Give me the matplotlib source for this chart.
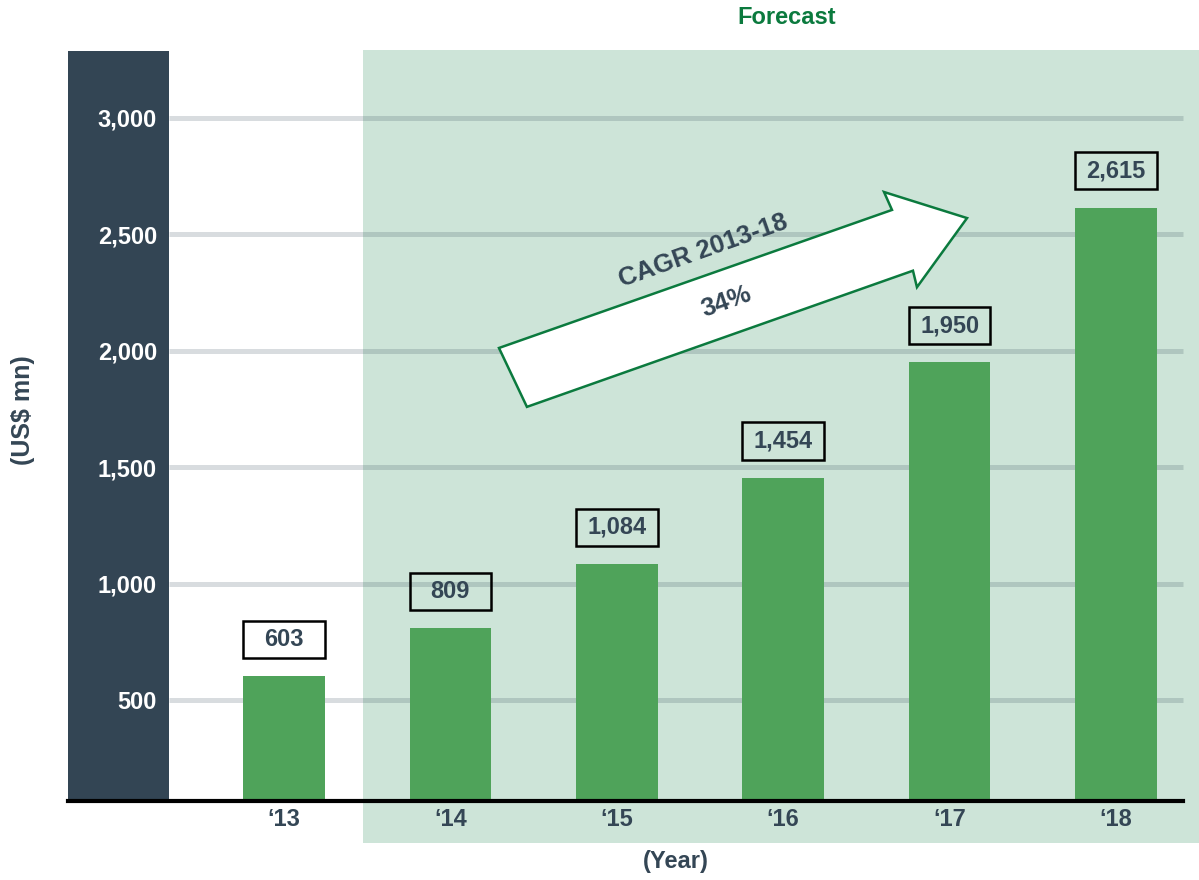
import matplotlib
matplotlib.use('Agg')
from matplotlib import pyplot
from matplotlib.patches import Rectangle, Polygon
from matplotlib import transforms

years = ['\u201813', '\u201814', '\u201815', '\u201816', '\u201817', '\u201818']
sales = [603, 809, 1084, 1454, 1950, 2615]
yticks = [500, 1000, 1500, 2000, 2500, 3000]
ytick_labels = ['500', '1,000', '1,500', '2,000', '2,500', '3,000']
cagr_text = 'CAGR 2013-18'
cagr_value = '34%'

DARK = '#334554'
TEXT = '#344655'
BAR = '#4fa35a'
FORECAST_BG = '#cde4d8'
FORECAST_GREEN = '#0b7a3e'

pyplot.rcParams['font.family'] = ['Liberation Sans', 'DejaVu Sans']
pyplot.rcParams['font.weight'] = 'bold'
fs = 17

fig = pyplot.figure(figsize=(11.99, 8.80), dpi=100)
ax = fig.add_axes([68/1199., 79/880., 1131/1199., 751/880.])

x = list(range(len(years)))
xlim = (-1.298, 5.499)
ylim = (66, 3292)
ax.set_xlim(xlim)
ax.set_ylim(ylim)

panel_right = -0.691
forecast_left = 0.475
grid_right = 5.403

# dark panel behind the y tick labels
ax.axvspan(xlim[0], panel_right, ymin=0, ymax=0.9987, color=DARK, lw=0, zorder=0)

# forecast background, running below the axis line
trans = transforms.blended_transform_factory(ax.transData, ax.transAxes)
ax.add_patch(Rectangle((forecast_left, -0.056), xlim[1] - forecast_left, 1.056,
                       transform=trans, facecolor=FORECAST_BG, lw=0,
                       clip_on=False, zorder=0))
ax.text(3.02, 1.043, 'Forecast', transform=trans,
        ha='center', va='center', color=FORECAST_GREEN, fontsize=fs, fontweight='bold')

# gridlines (translucent so they darken on the green)
ax.hlines(yticks, panel_right, grid_right, colors='#2a3f4f', alpha=0.18,
          linewidth=3.6, zorder=1)

width = 0.49
ax.bar(x, sales, width=width, color=BAR, zorder=2)

# value boxes
for xi, v in zip(x, sales):
    ax.add_patch(Rectangle((xi - width/2, v + 78), width, 160, fill=False,
                           edgecolor='black', linewidth=1.8, zorder=3))
    ax.text(xi, v + 158, '{:,}'.format(v), ha='center', va='center',
            color=TEXT, fontsize=fs, fontweight='bold', zorder=4)

# CAGR arrow
arrow_pts = [(1.292, 2012), (3.654, 2605), (3.606, 2682), (4.105, 2570),
             (3.804, 2273), (3.780, 2344), (1.460, 1759)]
ax.add_patch(Polygon(arrow_pts, closed=True, facecolor='white',
                     edgecolor=FORECAST_GREEN, linewidth=1.8, zorder=3))
ax.text(2.52, 2430, cagr_text, rotation=19.5, rotation_mode='anchor',
        ha='center', va='center', color=TEXT, fontsize=18.5, fontweight='bold', zorder=4)
ax.text(2.66, 2210, cagr_value, rotation=19.5, rotation_mode='anchor',
        ha='center', va='center', color=TEXT, fontsize=18.5, fontweight='bold', zorder=4)

# axes
for s in ['top', 'right', 'left']:
    ax.spines[s].set_visible(False)
ax.spines['bottom'].set_linewidth(3)
ax.spines['bottom'].set_color('black')
ax.spines['bottom'].set_bounds(xlim[0], grid_right)
ax.spines['bottom'].set_zorder(5)

ax.set_xticks(x)
ax.set_xticklabels(years, color=TEXT, fontsize=fs, fontweight='bold')
ax.tick_params(axis='x', length=0, pad=5)
ax.set_yticks(yticks)
ax.set_yticklabels(ytick_labels, color='white', fontsize=fs, fontweight='bold')
ax.tick_params(axis='y', length=0, pad=-64)
ax.set_facecolor('none')

ax.set_xlabel('(Year)', color=TEXT, fontsize=fs, fontweight='bold', va='center')
ax.xaxis.set_label_coords(0.537, -0.0812)
ax.set_ylabel('(US$ mn)', color=TEXT, fontsize=18, fontweight='bold', va='center')
ax.yaxis.set_label_coords(-0.0398, 0.521)

fig.savefig('out.png', dpi=100)
